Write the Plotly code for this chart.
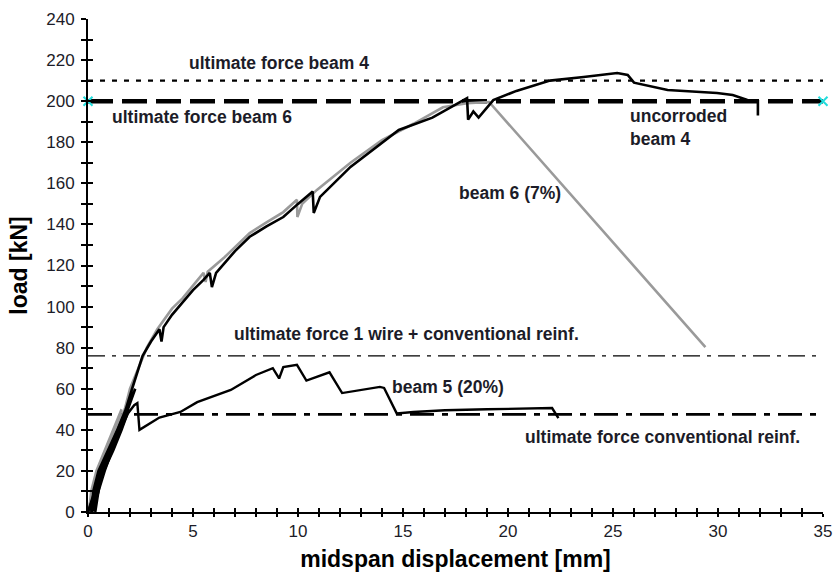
import plotly.graph_objects as go

# ---- data ----
beam4_x = [0, 0.35, 0.75, 1.2, 1.6, 1.95, 1.5, 1.05, 0.6, 0.3, 0.15, 0.45, 0.7, 1.1, 1.5, 1.9, 2.25,
           1.85, 1.4, 0.95, 0.5, 0.25, 0.2, 0.5, 0.65, 1.0, 1.4, 1.8, 2.1, 2.35, 2.6, 3.0, 3.4, 3.5, 3.6,
           4.0, 4.4, 5.0, 5.5, 5.8, 5.9, 6.1, 7.0, 7.7, 8.5, 9.3, 10.0, 10.7, 10.75, 11.05, 12.5, 14.0, 14.8,
           16.4, 17.3, 18.05, 18.1, 18.35, 18.6, 19.3, 20.4, 22.0, 23.6, 25.2, 25.7, 26.0, 27.6, 29.95, 30.7,
           31.4, 31.9, 31.9]
beam4_y = [0, 10, 20, 30, 40, 50, 40, 30, 20, 10, 0, 10, 20, 30, 40, 50, 60,
           50, 40, 30, 20, 10, 0, 10, 20, 30, 40, 50, 60, 68, 76, 83, 89, 83, 90,
           96, 101, 108, 113, 116.4, 109.5, 116.4, 127, 134, 139, 143.6, 150, 156, 145.6, 153.4, 168, 180, 186,
           192, 197, 201.5, 191, 195, 192, 200.5, 205, 210, 211.8, 213.7, 212.8, 209, 205.4, 204, 203,
           200.6, 200, 193]

beam6_x = [0, 0.2, 0.45, 0.85, 1.25, 1.6, 1.2, 0.8, 0.4, 0.15, 0.05, 0.3, 0.55, 0.95, 1.35, 1.75, 2.0,
           2.4, 2.8, 3.3, 4.0, 4.5, 5.0, 5.5, 5.6, 5.7, 6.5, 7.7, 8.5, 9.3, 9.95, 9.97, 10.2, 10.9, 12.5,
           14.0, 15.5, 16.9, 18.05, 19.1, 29.4]
beam6_y = [0, 10, 20, 30, 40, 50, 40, 30, 20, 10, 0, 10, 20, 30, 40, 50, 60,
           70, 80, 89, 99, 104, 110, 116.4, 112, 117, 124, 135.8, 141, 146, 152, 143.6, 150, 156.8, 170,
           181, 189, 197, 199, 199.6, 80.3]

beam5_x = [0, 0.3, 0.6, 1.0, 1.4, 1.7, 1.3, 0.9, 0.5, 0.3, 0.35, 0.5, 0.8, 1.15, 1.55, 1.9, 2.2, 2.35,
           2.45, 3.4, 4.4, 5.2, 6.8, 8.0, 8.8, 9.1, 9.3, 9.95, 10.4, 11.5, 12.1, 13.9, 14.1, 14.7, 15.5,
           17.0, 19.0, 21.0, 22.1, 22.4]
beam5_y = [0, 10, 20, 30, 40, 47, 37, 27, 15, 5, 0, 10, 20, 30, 40, 48, 52, 53,
           40, 46, 48.7, 53.5, 59.4, 66.7, 70, 65, 70.6, 71.6, 64, 68, 57.9, 60.9, 60.4, 48, 48.7,
           49.5, 50, 50.5, 50.6, 45.7]

ultimate_levels = {"beam4": 210, "beam6": 200, "wire_conv": 76, "conv": 47.5}
x_range = [0, 35]
y_range = [0, 240]

label_text = ["ultimate force beam 4", "ultimate force beam 6", "uncorroded<br>beam 4", "beam 6 (7%)",
              "ultimate force 1 wire + conventional reinf.", "beam 5 (20%)", "ultimate force conventional reinf."]
label_x = [4.71, 1.05, 25.7, 17.57, 6.86, 14.38, 20.7]
label_y = [218.6, 192.3, 187.2, 155.3, 86.7, 60.9, 36.5]

x_title = "midspan displacement [mm]"
y_title = "load [kN]"

# ---- figure ----
fig = go.Figure()

ref_styles = [
    ("beam4", dict(color="black", width=2.2, dash="5px,7px")),
    ("beam6", dict(color="black", width=4.5, dash="25px,9px")),
    ("wire_conv", dict(color="black", width=1.4, dash="17px,7px,4px,7px")),
    ("conv", dict(color="black", width=2.8, dash="24px,8px,6px,8px")),
]
for key, ls in ref_styles:
    fig.add_trace(go.Scatter(x=x_range, y=[ultimate_levels[key]] * 2, mode="lines",
                             line=ls, showlegend=False, hoverinfo="skip"))

fig.add_trace(go.Scatter(x=x_range, y=[ultimate_levels["beam6"]] * 2, mode="markers",
                         marker=dict(symbol="x-thin", size=9, line=dict(color="#22dddd", width=2)),
                         showlegend=False, hoverinfo="skip", cliponaxis=False))

fig.add_trace(go.Scatter(x=beam6_x, y=beam6_y, mode="lines",
                         line=dict(color="#9a9a9a", width=2.6), showlegend=False))
fig.add_trace(go.Scatter(x=beam5_x, y=beam5_y, mode="lines",
                         line=dict(color="black", width=2.4), showlegend=False))
fig.add_trace(go.Scatter(x=beam4_x, y=beam4_y, mode="lines",
                         line=dict(color="black", width=2.6), showlegend=False))

for t, x, y in zip(label_text, label_x, label_y):
    fig.add_annotation(x=x, y=y, text="<b>" + t + "</b>", showarrow=False, xanchor="left", yanchor="middle",
                       align="left", font=dict(family="Liberation Sans, Arial", size=17.5, color="#1c1c28"))

tickfont = dict(family="Liberation Sans, Arial", size=17, color="#1c1c28")
titlefont = dict(family="Liberation Sans, Arial", size=23, color="black")

fig.update_layout(
    width=837, height=573,
    margin=dict(l=88, r=14, t=19, b=61),
    plot_bgcolor="white", paper_bgcolor="white",
    xaxis=dict(range=x_range, dtick=5, tick0=0, showgrid=False, zeroline=False, automargin=False,
               showline=True, linecolor="black", linewidth=2,
               ticks="outside", ticklen=3, tickwidth=1.5, tickcolor="black",
               minor=dict(dtick=1, ticks="outside", ticklen=3, tickwidth=1.5, tickcolor="black"),
               tickfont=tickfont,
               title=dict(text="<b>" + x_title + "</b>", font=titlefont, standoff=10)),
    yaxis=dict(range=y_range, dtick=20, tick0=0, showgrid=False, zeroline=False, automargin=False,
               showline=True, linecolor="black", linewidth=2,
               ticks="outside", ticklen=5, tickwidth=1.5, tickcolor="black",
               minor=dict(dtick=10, ticks="outside", ticklen=5, tickwidth=1.5, tickcolor="black"),
               tickfont=tickfont, ticklabelstandoff=3,
               title=dict(text="<b>" + y_title + "</b>", font=titlefont, standoff=12)),
    xaxis2=dict(range=x_range, overlaying="x", anchor="y", side="bottom", dtick=5, tick0=0, automargin=False,
                showgrid=False, zeroline=False, showline=False, showticklabels=False,
                ticks="inside", ticklen=4, tickwidth=1.5, tickcolor="black",
                minor=dict(dtick=1, ticks="inside", ticklen=4, tickwidth=1.5, tickcolor="black")),
    yaxis2=dict(range=y_range, overlaying="y", anchor="x", side="left", dtick=20, tick0=0, automargin=False,
                showgrid=False, zeroline=False, showline=False, showticklabels=False,
                ticks="inside", ticklen=5, tickwidth=1.5, tickcolor="black",
                minor=dict(dtick=10, ticks="inside", ticklen=5, tickwidth=1.5, tickcolor="black")),
)
# invisible trace to activate overlay axes
fig.add_trace(go.Scatter(x=[0], y=[0], xaxis="x2", yaxis="y2", mode="markers",
                         marker=dict(opacity=0), showlegend=False, hoverinfo="skip"))

fig.write_html("out.html")
